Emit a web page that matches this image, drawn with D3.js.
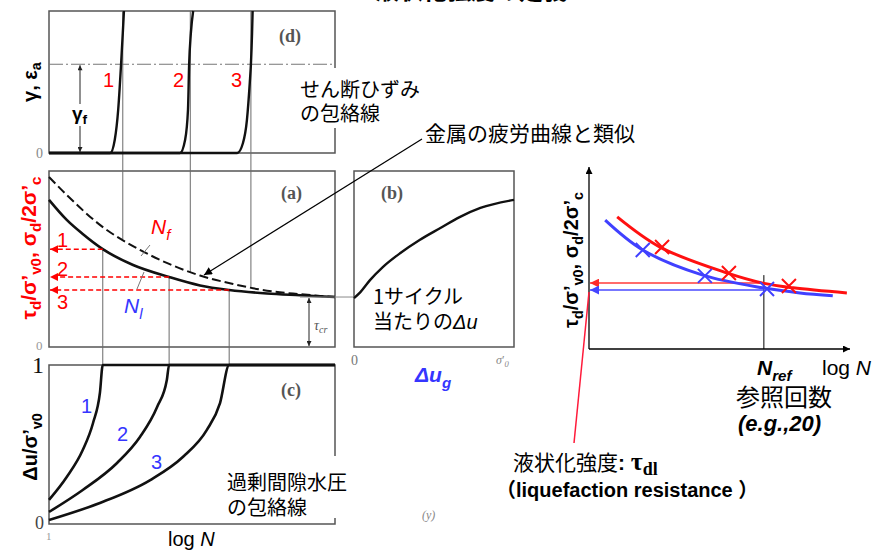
<!DOCTYPE html>
<html>
<head>
<meta charset="utf-8">
<script src="https://cdn.jsdelivr.net/npm/d3@7"></script>
<style>
  body { margin: 0; background: #fff; }
  svg { display: block; }
</style>
</head>
<body>
<script>
// ---------------- data ----------------
// horizontal axis of the three stacked panels: log N (N = number of cycles)
const logNDomain = [0, 5];

// (d) strain envelopes: [log N, strain]
const strainDomain = [0, 1.6];
const gammaF = 1.0;
const strainCurve1 = [[0, 0], [1.07, 0], [1.15, 0.15], [1.21, 0.49], [1.26, 1.0], [1.29, 1.35], [1.31, 1.6]];
const strainCurve2 = [[0, 0], [2.29, 0], [2.38, 0.15], [2.43, 0.49], [2.45, 1.0], [2.48, 1.35], [2.52, 1.6]];
const strainCurve3 = [[0, 0], [3.29, 0], [3.39, 0.11], [3.46, 0.37], [3.51, 0.79], [3.53, 1.0], [3.55, 1.35], [3.56, 1.6]];
const caseLabels = ["1", "2", "3"];

// (a) cyclic stress ratio vs log N: solid = N_l, dashed = N_f
const stressDomain = [0, 0.5];
const stressNl = [[0, 0.418], [0.31, 0.361], [0.59, 0.321], [0.94, 0.278], [1.47, 0.233], [2.10, 0.199],
                  [2.64, 0.175], [3.15, 0.162], [3.81, 0.152], [4.39, 0.147], [5, 0.142]];
const stressNf = [[0, 0.483], [0.31, 0.432], [0.89, 0.347], [1.59, 0.276], [2.10, 0.236], [2.64, 0.203],
                  [3.22, 0.179], [3.81, 0.160], [4.39, 0.150], [5, 0.142]];
const levelStress = [0.278, 0.199, 0.162];
const levelLogNl = [0.94, 2.10, 3.15];
const levelLogNf = [1.29, 2.47, 3.53];
const tauCr = 0.142;

// (b) stress ratio vs pore pressure increment per cycle
const ugCurve = [[0, 0.139], [0.04, 0.156], [0.10, 0.19], [0.18, 0.227], [0.29, 0.267], [0.41, 0.304],
                 [0.54, 0.338], [0.66, 0.369], [0.79, 0.395], [1.0, 0.418]];

// (c) excess pore pressure envelopes: [log N, Δu/σ'v0]
const poreCurve1 = [[0, 0.146], [0.31, 0.291], [0.59, 0.462], [0.77, 0.633], [0.89, 0.823], [0.94, 1], [5, 1]];
const poreCurve2 = [[0, 0.07], [0.59, 0.209], [1.19, 0.38], [1.59, 0.544], [1.89, 0.734], [2.06, 0.905], [2.10, 1], [5, 1]];
const poreCurve3 = [[0, 0.019], [0.89, 0.127], [1.77, 0.272], [2.34, 0.418], [2.76, 0.589], [2.99, 0.759], [3.15, 1], [5, 1]];

// right-hand sketch: strength curves and test points
const refRedCurve = [[0.54, 0.363], [1.36, 0.280], [2.64, 0.209], [3.33, 0.181], [3.91, 0.168], [4.94, 0.154]];
const refBlueCurve = [[0.31, 0.354], [1.03, 0.272], [2.18, 0.203], [3.33, 0.168], [4.04, 0.154], [4.67, 0.146]];
const refRedMarks = [[1.40, 0.280], [2.68, 0.209], [3.83, 0.173]];
const refBlueMarks = [[1.03, 0.272], [2.22, 0.201], [3.41, 0.165]];
const nRef = 3.35;
const refTauRed = 0.181;
const refTauBlue = 0.162;

// ---------------- setup ----------------
const W = 876, H = 555;
const svg = d3.select("body").append("svg").attr("width", W).attr("height", H);

const fontJP = "'Noto Sans CJK JP', sans-serif";
const fontSans = "'Liberation Sans', Arial, 'Noto Sans CJK JP', sans-serif";
const fontSerif = "'Liberation Serif', 'DejaVu Serif', serif";
const RED = "#ff0000", BLUE = "#3535ff", FRAME = "#555", GUIDE = "#6a6a6a";

const xN = d3.scaleLinear().domain(logNDomain).range([49, 335]);
const yStrain = d3.scaleLinear().domain(strainDomain).range([153, 11]);
const yStress = d3.scaleLinear().domain(stressDomain).range([347, 171]);
const xUg = d3.scaleLinear().domain([0, 1]).range([354, 514]);
const yPore = d3.scaleLinear().domain([0, 1]).range([523, 365]);
const xR = d3.scaleLinear().domain([0, 5]).range([589, 850]);
const yR = d3.scaleLinear().domain([0, 0.5]).range([349, 167]);

const defs = svg.append("defs");
function marker(id, color, w, h) {
  defs.append("marker").attr("id", id)
    .attr("viewBox", "0 0 10 10").attr("refX", 10).attr("refY", 5)
    .attr("markerWidth", w).attr("markerHeight", h)
    .attr("markerUnits", "userSpaceOnUse").attr("orient", "auto-start-reverse")
    .append("path").attr("d", "M0,0 L10,5 L0,10 z").attr("fill", color);
}
marker("arBlack", "#000", 12, 8);
marker("arSmall", "#222", 7, 5);
marker("arRed", RED, 10, 8);
marker("arRedR", "#ff2a2a", 10, 9);
marker("arBlueR", "#4545ff", 10, 9);
marker("arAxis", "#000", 10, 7);

function interp(pts, x) {
  for (let i = 1; i < pts.length; i++) {
    if (x <= pts[i][0]) {
      const [x0, y0] = pts[i - 1], [x1, y1] = pts[i];
      return y0 + (y1 - y0) * (x - x0) / (x1 - x0);
    }
  }
  return pts[pts.length - 1][1];
}

// text with sub-scripted parts
function rich(g, x, y, parts, o) {
  const size = o.size || 20;
  const t = g.append("text").attr("x", x).attr("y", y)
    .attr("font-family", o.family || fontSans).attr("font-size", size)
    .attr("font-weight", o.weight || "normal").attr("fill", o.fill || "#000");
  if (o.anchor) t.attr("text-anchor", o.anchor);
  if (o.transform) t.attr("transform", o.transform);
  if (o.italic) t.attr("font-style", "italic");
  let shift = 0;
  parts.forEach(p => {
    const s = p.sub ? (o.subShift !== undefined ? o.subShift : size * 0.3) : 0;
    const ts = t.append("tspan").text(p.t).attr("dy", s - shift);
    shift = s;
    if (p.sub) ts.attr("font-size", p.size || size * 0.72);
    else if (p.size) ts.attr("font-size", p.size);
    if (p.italic) ts.attr("font-style", "italic");
    if (p.upright) ts.attr("font-style", "normal");
    if (p.family) ts.attr("font-family", p.family);
    if (p.weight) ts.attr("font-weight", p.weight);
  });
  return t;
}
function label(g, x, y, str, o) {
  const t = g.append("text").attr("x", x).attr("y", y).text(str)
    .attr("font-family", o.family || fontSans).attr("font-size", o.size || 20)
    .attr("font-weight", o.weight || "normal").attr("fill", o.fill || "#000");
  if (o.italic) t.attr("font-style", "italic");
  if (o.anchor) t.attr("text-anchor", o.anchor);
  return t;
}

// ---------------- title (runs off the top edge) ----------------
label(svg, 375, -1, "液状化強度の定義", { family: fontJP, size: 24, weight: "bold" });

// ---------------- left figure ----------------
const left = svg.append("g");

// panel frames
[[xN(0), yStrain(1.6), xN(5), yStrain(0)],
 [xN(0), yStress(0.5), xN(5), yStress(0)],
 [xUg(0), yStress(0.5), xUg(1), yStress(0)],
 [xN(0), yPore(1), xN(5), yPore(0) + 1]].forEach(([x0, y0, x1, y1]) => {
  left.append("rect").attr("x", x0).attr("y", y0).attr("width", x1 - x0).attr("height", y1 - y0)
    .attr("fill", "none").attr("stroke", FRAME).attr("stroke-width", 1.5);
});

// guide lines: N_f from (d) down to the dashed curve, N_l from the solid curve down into (c)
levelLogNf.forEach(n => {
  left.append("line").attr("x1", xN(n)).attr("x2", xN(n))
    .attr("y1", yStrain(1.6)).attr("y2", yStress(interp(stressNf, n)))
    .attr("stroke", GUIDE).attr("stroke-width", 1);
});
levelLogNl.forEach((n, i) => {
  left.append("line").attr("x1", xN(n)).attr("x2", xN(n))
    .attr("y1", yStress(levelStress[i])).attr("y2", yPore(1))
    .attr("stroke", GUIDE).attr("stroke-width", 1);
});

// (d) failure strain level (dash-dot)
left.append("line").attr("x1", xN(0)).attr("x2", xN(5))
  .attr("y1", yStrain(gammaF)).attr("y2", yStrain(gammaF))
  .attr("stroke", "#777").attr("stroke-width", 1).attr("stroke-dasharray", "14,3,2,3");

// (d) strain curves
const lineStrain = d3.line().x(d => xN(d[0])).y(d => yStrain(d[1])).curve(d3.curveMonotoneX);
[strainCurve1, strainCurve2, strainCurve3].forEach(c => {
  left.append("path").attr("d", lineStrain(c)).attr("fill", "none")
    .attr("stroke", "#111").attr("stroke-width", 2.4);
});

// γf double arrow with its label on a white plate
left.append("line").attr("x1", 80).attr("x2", 80)
  .attr("y1", yStrain(gammaF) + 1).attr("y2", yStrain(0) - 1)
  .attr("stroke", "#222").attr("stroke-width", 1)
  .attr("marker-start", "url(#arSmall)").attr("marker-end", "url(#arSmall)");
left.append("rect").attr("x", 72).attr("y", 104).attr("width", 17).attr("height", 22).attr("fill", "#fff");
rich(left, 72, 120, [{ t: "γ" }, { t: "f", sub: true }], { size: 19, weight: "bold", subShift: 4 });

// (a) curves
const lineStress = d3.line().x(d => xN(d[0])).y(d => yStress(d[1])).curve(d3.curveMonotoneX);
left.append("path").attr("d", lineStress(stressNf)).attr("fill", "none")
  .attr("stroke", "#111").attr("stroke-width", 2).attr("stroke-dasharray", "9,4");
left.append("path").attr("d", lineStress(stressNl)).attr("fill", "none")
  .attr("stroke", "#111").attr("stroke-width", 2.6);

// red dashed arrows to the stress axis
levelStress.forEach((s, i) => {
  left.append("line").attr("x1", xN(levelLogNl[i])).attr("x2", xN(0) + 1)
    .attr("y1", yStress(s)).attr("y2", yStress(s))
    .attr("stroke", RED).attr("stroke-width", 1.5).attr("stroke-dasharray", "5,3")
    .attr("marker-end", "url(#arRed)");
});

// τcr: tick line and double arrow
left.append("line").attr("x1", 300).attr("x2", xUg(0))
  .attr("y1", yStress(tauCr)).attr("y2", yStress(tauCr))
  .attr("stroke", "#8a8a8a").attr("stroke-width", 1);
left.append("line").attr("x1", 309).attr("x2", 309)
  .attr("y1", yStress(tauCr) + 1).attr("y2", yStress(0) - 1)
  .attr("stroke", "#222").attr("stroke-width", 1)
  .attr("marker-start", "url(#arSmall)").attr("marker-end", "url(#arSmall)");

// (b) curve
const lineUg = d3.line().x(d => xUg(d[0])).y(d => yStress(d[1])).curve(d3.curveMonotoneX);
left.append("path").attr("d", lineUg(ugCurve)).attr("fill", "none")
  .attr("stroke", "#111").attr("stroke-width", 2.4);

// (c) pore pressure curves
const linePore = d3.line().x(d => xN(d[0])).y(d => yPore(d[1])).curve(d3.curveMonotoneX);
[poreCurve1, poreCurve2, poreCurve3].forEach(c => {
  left.append("path").attr("d", linePore(c)).attr("fill", "none")
    .attr("stroke", "#111").attr("stroke-width", 2.6);
});

// N_f / N_l leader lines
left.append("line").attr("x1", 150).attr("y1", 245).attr("x2", 141).attr("y2", 256)
  .attr("stroke", "#777").attr("stroke-width", 1);
left.append("line").attr("x1", 137).attr("y1", 289).attr("x2", 144).attr("y2", 272)
  .attr("stroke", "#777").attr("stroke-width", 1);

// arrow from the annotation to the fatigue-like curve
left.append("line").attr("x1", 422).attr("y1", 139).attr("x2", 204).attr("y2", 275)
  .attr("stroke", "#000").attr("stroke-width", 1.2).attr("marker-end", "url(#arBlack)");

// white plates behind the envelope notes
left.append("rect").attr("x", 296).attr("y", 68).attr("width", 128).attr("height", 60).attr("fill", "#fff");
left.append("rect").attr("x", 222).attr("y", 456).attr("width", 128).attr("height", 62).attr("fill", "#fff");

// panel tags and tick numbers (serif, greyish)
[["(d)", 279, 42], ["(a)", 281, 199], ["(b)", 381, 199], ["(c)", 281, 396]].forEach(([s, x, y]) => {
  label(left, x, y, s, { family: fontSerif, size: 18, weight: "bold", fill: "#555" });
});
label(left, 36, 158, "0", { family: fontSerif, size: 14, fill: "#888" });
label(left, 36, 350, "0", { family: fontSerif, size: 13, fill: "#999" });
label(left, 351, 365, "0", { family: fontSerif, size: 14, fill: "#777" });
rich(left, 496, 364, [{ t: "σ" }, { t: "′", upright: true }, { t: "0", sub: true }],
  { family: fontSerif, size: 12, fill: "#888", italic: true, subShift: 3 });
label(left, 32, 373, "1", { family: fontSerif, size: 24, fill: "#111" });
label(left, 35, 529, "0", { family: fontSerif, size: 18, fill: "#444" });
label(left, 46, 540, "1", { family: fontSerif, size: 11, fill: "#999" });
label(left, 422, 519, "(y)", { family: fontSerif, size: 12, fill: "#888", italic: true });
rich(left, 314, 330, [{ t: "τ" }, { t: "cr", sub: true }],
  { family: fontSerif, size: 14, fill: "#555", italic: true, subShift: 3 });

// case numbers
const xCaseD = [103, 173, 231];
caseLabels.forEach((s, i) => label(left, xCaseD[i], 87, s, { size: 20, fill: RED }));
const yCaseA = [247, 276, 309];
caseLabels.forEach((s, i) => label(left, 57, yCaseA[i], s, { size: 20, fill: RED }));
const posCaseC = [[81, 413], [117, 441], [151, 469]];
caseLabels.forEach((s, i) => label(left, posCaseC[i][0], posCaseC[i][1], s, { size: 20, fill: BLUE }));

// N_f, N_l
rich(left, 151, 234, [{ t: "N" }, { t: "f", sub: true }], { size: 21, fill: RED, italic: true, subShift: 6 });
rich(left, 124, 313, [{ t: "N" }, { t: "l", sub: true }], { size: 21, fill: BLUE, italic: true, subShift: 6 });

// notes
label(left, 300, 97, "せん断ひずみ", { family: fontJP, size: 20 });
label(left, 300, 121, "の包絡線", { family: fontJP, size: 20 });
label(left, 425, 141, "金属の疲労曲線と類似", { family: fontJP, size: 21 });
label(left, 373, 304, "1サイクル", { family: fontJP, size: 20 });
rich(left, 373, 329, [{ t: "当たりの", family: fontJP }, { t: "Δu", italic: true }], { size: 20 });
label(left, 227, 490, "過剰間隙水圧", { family: fontJP, size: 20 });
label(left, 227, 515, "の包絡線", { family: fontJP, size: 20 });
rich(left, 168, 546, [{ t: "log " }, { t: "N", italic: true }], { size: 20 });
rich(left, 415, 382, [{ t: "Δu" }, { t: "g", sub: true }],
  { size: 21, fill: BLUE, weight: "bold", italic: true, subShift: 6 });

// axis titles (rotated)
rich(left, 0, 0, [{ t: "γ, ε" }, { t: "a", sub: true }],
  { size: 20, weight: "bold", anchor: "middle", transform: "translate(37,82) rotate(-90)", subShift: 4 });
rich(left, 0, 0,
  [{ t: "τ" }, { t: "d", sub: true }, { t: "/σ’" }, { t: "v0", sub: true }, { t: ", σ" }, { t: "d", sub: true },
   { t: "/2σ’" }, { t: "c", sub: true }],
  { size: 21, weight: "bold", fill: RED, anchor: "middle", transform: "translate(36,248) rotate(-90)", subShift: 5 });
rich(left, 0, 0, [{ t: "Δu/σ’" }, { t: "v0", sub: true }],
  { size: 20, weight: "bold", anchor: "middle", transform: "translate(37,447) rotate(-90)", subShift: 5 });

// ---------------- right sketch ----------------
const right = svg.append("g");

// axes with arrowheads
right.append("line").attr("x1", xR(0)).attr("y1", yR(0)).attr("x2", xR(0)).attr("y2", yR(0.5))
  .attr("stroke", "#000").attr("stroke-width", 1.3).attr("marker-end", "url(#arAxis)");
right.append("line").attr("x1", xR(0)).attr("y1", yR(0)).attr("x2", xR(5)).attr("y2", yR(0))
  .attr("stroke", "#000").attr("stroke-width", 1.3).attr("marker-end", "url(#arAxis)");

// N_ref line
right.append("line").attr("x1", xR(nRef)).attr("x2", xR(nRef))
  .attr("y1", yR(refTauRed) - 8).attr("y2", yR(0))
  .attr("stroke", "#000").attr("stroke-width", 1);

// horizontal arrows to the stress axis
right.append("line").attr("x1", xR(nRef)).attr("x2", xR(0) + 1)
  .attr("y1", yR(refTauRed)).attr("y2", yR(refTauRed))
  .attr("stroke", "#ff3a3a").attr("stroke-width", 1.5).attr("marker-end", "url(#arRedR)");
right.append("line").attr("x1", xR(nRef)).attr("x2", xR(0) + 1)
  .attr("y1", yR(refTauBlue)).attr("y2", yR(refTauBlue))
  .attr("stroke", "#4a4aff").attr("stroke-width", 1.5).attr("marker-end", "url(#arBlueR)");

// curves
const lineR = d3.line().x(d => xR(d[0])).y(d => yR(d[1])).curve(d3.curveCatmullRom);
right.append("path").attr("d", lineR(refBlueCurve)).attr("fill", "none")
  .attr("stroke", "#4040ff").attr("stroke-width", 3);
right.append("path").attr("d", lineR(refRedCurve)).attr("fill", "none")
  .attr("stroke", "#ff1010").attr("stroke-width", 3);

// test points (×)
function crosses(pts, color) {
  pts.forEach(([n, s]) => {
    const cx = xR(n), cy = yR(s), r = 7;
    right.append("path").attr("d", `M${cx - r},${cy - r}L${cx + r},${cy + r}M${cx - r},${cy + r}L${cx + r},${cy - r}`)
      .attr("stroke", color).attr("stroke-width", 2).attr("fill", "none");
  });
}
crosses(refBlueMarks, "#4040ff");
crosses(refRedMarks, "#ff1010");

// pointer from the strength label up to the axis
right.append("line").attr("x1", 574).attr("y1", 443).attr("x2", xR(0)).attr("y2", yR(refTauBlue) + 2)
  .attr("stroke", "#ff1a3a").attr("stroke-width", 1.5);

// labels
rich(right, 0, 0,
  [{ t: "τ" }, { t: "d", sub: true }, { t: "/σ’" }, { t: "v0", sub: true }, { t: ", σ" }, { t: "d", sub: true },
   { t: "/2σ’" }, { t: "c", sub: true }],
  { size: 20, weight: "bold", anchor: "middle", transform: "translate(578,260) rotate(-90)", subShift: 5 });
rich(right, 757, 375, [{ t: "N" }, { t: "ref", sub: true }],
  { size: 21, weight: "bold", italic: true, subShift: 6 });
rich(right, 822, 375, [{ t: "log " }, { t: "N", italic: true }], { size: 21 });
label(right, 736, 406, "参照回数", { family: fontJP, size: 24 });
label(right, 738, 431, "(e.g.,20)", { size: 22, weight: "bold", italic: true });
rich(right, 513, 470,
  [{ t: "液状化強度", family: fontJP }, { t: ": ", weight: "bold" },
   { t: "τ", family: fontSerif, weight: "bold", size: 26 },
   { t: "dl", sub: true, family: fontSerif, weight: "bold", size: 18 }],
  { size: 21, subShift: 5 });
label(right, 496, 497, "（liquefaction resistance ）", { size: 20, weight: "bold" });
</script>
</body>
</html>
